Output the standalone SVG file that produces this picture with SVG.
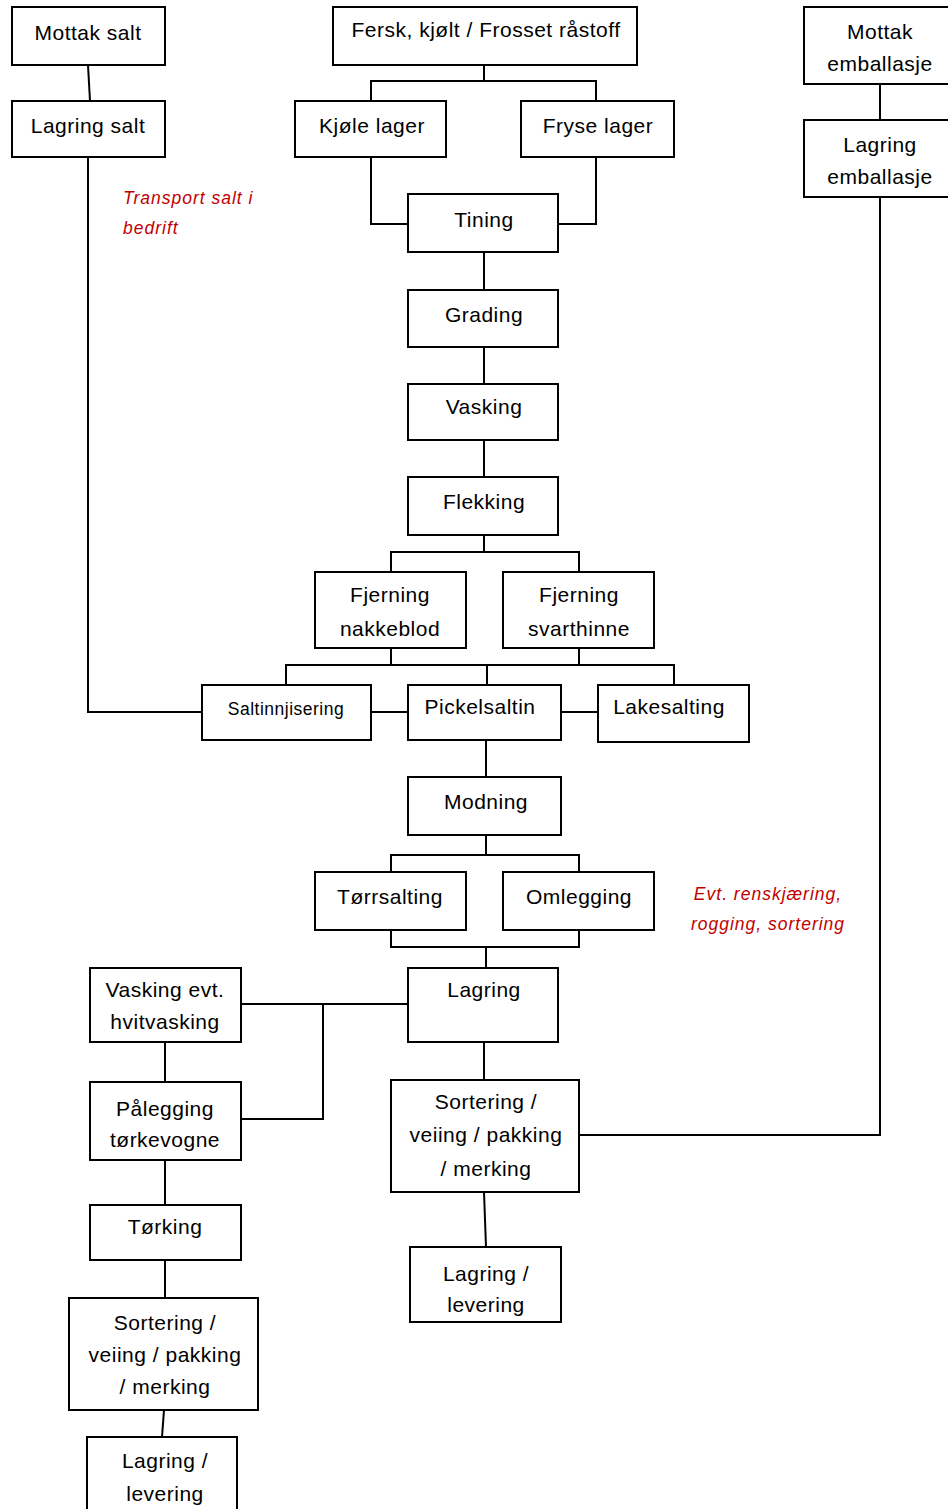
<svg xmlns="http://www.w3.org/2000/svg" width="948" height="1509" viewBox="0 0 948 1509">
<style>
rect.b{fill:#fff;stroke:#000;stroke-width:2}
#connectors path,#connectors line{fill:none;stroke:#000;stroke-width:2}
text{font-family:"Liberation Sans",Arial,sans-serif;font-size:21px;letter-spacing:0.5px;fill:#000;text-anchor:middle}
text.s{font-size:17.5px;letter-spacing:0.5px}
text.note{font-size:17.5px;letter-spacing:1px;font-style:italic;fill:#c00000}
</style>
<rect width="948" height="1509" fill="#fff"/>
<g id="connectors">
<line x1="88" y1="65" x2="90" y2="101"/>
<path d="M88 157V712H202"/>
<path d="M484 65V81M371 101V81H596V101"/>
<path d="M371 157V224H408M596 157V224H558"/>
<line x1="484" y1="252" x2="484" y2="290"/>
<line x1="484" y1="347" x2="484" y2="384"/>
<line x1="484" y1="440" x2="484" y2="477"/>
<path d="M484 535V552M391 572V552H579V572"/>
<path d="M391 648V665M579 648V665M286 685V665H674V685M487 665V685"/>
<line x1="371" y1="712" x2="408" y2="712"/>
<line x1="561" y1="712" x2="598" y2="712"/>
<line x1="486" y1="740" x2="486" y2="777"/>
<path d="M486 835V855M391 872V855H579V872"/>
<path d="M391 930V947H579V930M486 947V968"/>
<path d="M241 1004H408M323 1004V1119H241"/>
<line x1="165" y1="1042" x2="165" y2="1082"/>
<line x1="165" y1="1160" x2="165" y2="1205"/>
<line x1="165" y1="1260" x2="165" y2="1298"/>
<line x1="164" y1="1410" x2="162" y2="1437"/>
<line x1="484" y1="1042" x2="484" y2="1080"/>
<line x1="484" y1="1192" x2="486" y2="1247"/>
<path d="M579 1135H880V197"/>
<line x1="880" y1="84" x2="880" y2="120"/>
</g>
<g id="mottak-salt"><rect class="b" x="12" y="7" width="153" height="58"/><text x="88" y="40">Mottak salt</text></g>
<g id="lagring-salt"><rect class="b" x="12" y="101" width="153" height="56"/><text x="88" y="133">Lagring salt</text></g>
<g id="fersk"><rect class="b" x="333" y="7" width="304" height="58"/><text x="486" y="37">Fersk, kjølt / Frosset råstoff</text></g>
<g id="kjole-lager"><rect class="b" x="295" y="101" width="151" height="56"/><text x="372" y="133">Kjøle lager</text></g>
<g id="fryse-lager"><rect class="b" x="521" y="101" width="153" height="56"/><text x="598" y="133">Fryse lager</text></g>
<g id="tining"><rect class="b" x="408" y="194" width="150" height="58"/><text x="484" y="227">Tining</text></g>
<g id="grading"><rect class="b" x="408" y="290" width="150" height="57"/><text x="484" y="322">Grading</text></g>
<g id="vasking"><rect class="b" x="408" y="384" width="150" height="56"/><text x="484" y="414">Vasking</text></g>
<g id="flekking"><rect class="b" x="408" y="477" width="150" height="58"/><text x="484" y="509">Flekking</text></g>
<g id="fjerning-nakkeblod"><rect class="b" x="315" y="572" width="151" height="76"/><text x="390" y="602">Fjerning</text><text x="390" y="636">nakkeblod</text></g>
<g id="fjerning-svarthinne"><rect class="b" x="503" y="572" width="151" height="76"/><text x="579" y="602">Fjerning</text><text x="579" y="636">svarthinne</text></g>
<g id="saltinnjisering"><rect class="b" x="202" y="685" width="169" height="55"/><text class="s" x="286" y="715">Saltinnjisering</text></g>
<g id="pickelsaltin"><rect class="b" x="408" y="685" width="153" height="55"/><text x="480" y="714">Pickelsaltin</text></g>
<g id="lakesalting"><rect class="b" x="598" y="685" width="151" height="57"/><text x="669" y="714">Lakesalting</text></g>
<g id="modning"><rect class="b" x="408" y="777" width="153" height="58"/><text x="486" y="809">Modning</text></g>
<g id="torrsalting"><rect class="b" x="315" y="872" width="151" height="58"/><text x="390" y="904">Tørrsalting</text></g>
<g id="omlegging"><rect class="b" x="503" y="872" width="151" height="58"/><text x="579" y="904">Omlegging</text></g>
<g id="lagring"><rect class="b" x="408" y="968" width="150" height="74"/><text x="484" y="997">Lagring</text></g>
<g id="vasking-evt"><rect class="b" x="90" y="968" width="151" height="74"/><text x="165" y="997">Vasking evt.</text><text x="165" y="1029">hvitvasking</text></g>
<g id="palegging"><rect class="b" x="90" y="1082" width="151" height="78"/><text x="165" y="1116">Pålegging</text><text x="165" y="1147">tørkevogne</text></g>
<g id="torking"><rect class="b" x="90" y="1205" width="151" height="55"/><text x="165" y="1234">Tørking</text></g>
<g id="sortering-venstre"><rect class="b" x="69" y="1298" width="189" height="112"/><text x="165" y="1330">Sortering /</text><text x="165" y="1362">veiing / pakking</text><text x="165" y="1394">/ merking</text></g>
<g id="lagring-levering-venstre"><rect class="b" x="87" y="1437" width="150" height="80"/><text x="165" y="1468">Lagring /</text><text x="165" y="1501">levering</text></g>
<g id="sortering-hoyre"><rect class="b" x="391" y="1080" width="188" height="112"/><text x="486" y="1109">Sortering /</text><text x="486" y="1142">veiing / pakking</text><text x="486" y="1176">/ merking</text></g>
<g id="lagring-levering-hoyre"><rect class="b" x="410" y="1247" width="151" height="75"/><text x="486" y="1281">Lagring /</text><text x="486" y="1312">levering</text></g>
<g id="mottak-emballasje"><rect class="b" x="804" y="7" width="150" height="77"/><text x="880" y="39">Mottak</text><text x="880" y="71">emballasje</text></g>
<g id="lagring-emballasje"><rect class="b" x="804" y="120" width="150" height="77"/><text x="880" y="152">Lagring</text><text x="880" y="184">emballasje</text></g>
<g id="notes">
<text class="note" x="123" y="204" style="text-anchor:start">Transport salt i</text>
<text class="note" x="123" y="234" style="text-anchor:start">bedrift</text>
<text class="note" x="768" y="900">Evt. renskjæring,</text>
<text class="note" x="768" y="930">rogging, sortering</text>
</g>
</svg>
